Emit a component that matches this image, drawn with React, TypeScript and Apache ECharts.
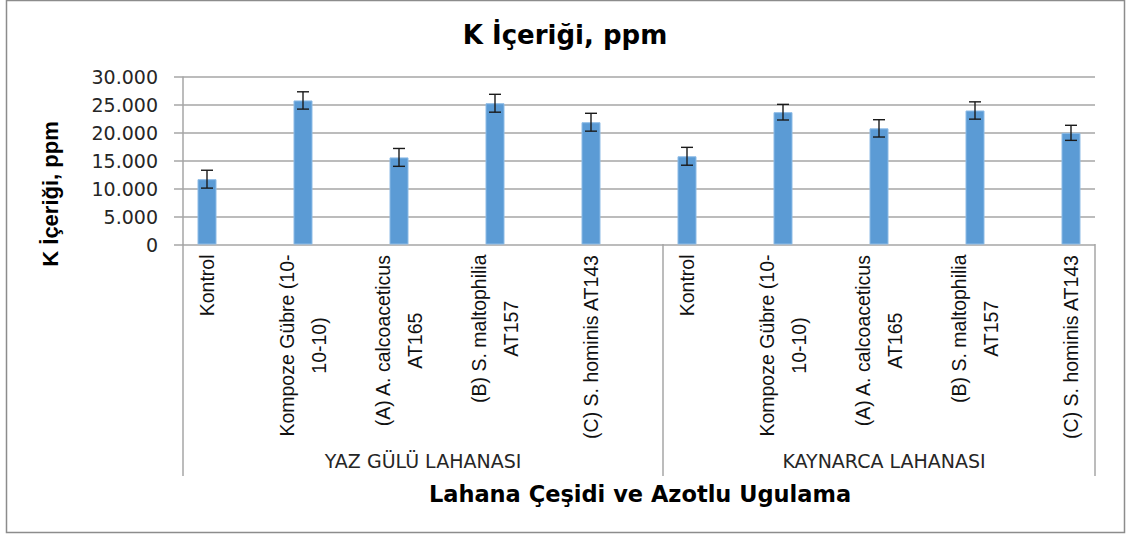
import React, { useEffect, useRef } from "react";
import * as echarts from "echarts";

const categories = [
  "Kontrol",
  "Kompoze Gübre (10-\n10-10)",
  "(A) A. calcoaceticus\nAT165",
  "(B) S. maltophilia\nAT157",
  "(C) S. hominis AT143",
  "Kontrol",
  "Kompoze Gübre (10-\n10-10)",
  "(A) A. calcoaceticus\nAT165",
  "(B) S. maltophilia\nAT157",
  "(C) S. hominis AT143",
];
const groups = ["YAZ GÜLÜ LAHANASI", "KAYNARCA LAHANASI"];
const yazValues = [11700, 25800, 15600, 25300, 21900];
const kaynarcaValues = [15800, 23700, 20800, 24000, 20000];
const errors = [1600, 1550, 1600, 1600, 1600, 1600, 1400, 1550, 1550, 1350];
const yTicks = [0, 5000, 10000, 15000, 20000, 25000, 30000];

const title = "K İçeriği, ppm";
const yTitle = "K İçeriği, ppm";
const xTitle = "Lahana Çeşidi ve Azotlu Ugulama";

const catFont = "'Liberation Sans'";

export default function App() {
  const ref = useRef<HTMLDivElement>(null);
  useEffect(() => {
    if (!ref.current) return;
    const chart = echarts.init(ref.current, undefined, { renderer: "svg" });
    const values = [...yazValues, ...kaynarcaValues];
    const grey = "#a6a6a6";
    const fmt = (v: number) => (v === 0 ? "0" : (v / 1000).toFixed(3));
    const option: any = {
      animation: false,
      backgroundColor: "#ffffff",
      grid: [
        { left: 183, top: 77, width: 912, height: 167.5, containLabel: false },
        { left: 159, top: 77, width: 960, height: 167.5, containLabel: false },
      ],
      xAxis: [
        { gridIndex: 0, type: "value", show: false, min: 0, max: 1 },
        {
          gridIndex: 1,
          type: "category",
          data: categories.map((_, i) => String(i)),
          axisLine: { show: false },
          axisTick: { show: false },
          axisLabel: {
            interval: 0,
            rotate: 90,
            margin: 10,
            fontFamily: catFont,
            fontSize: 19.5,
            lineHeight: 32,
            color: "#111",
            formatter: (v: string) =>
              categories[Number(v)]
                .split("\n")
                .map((l) => `{c|${l}}`)
                .join("\n"),
            rich: {
              c: {
                align: "center",
                fontFamily: catFont,
                fontSize: 19.5,
                lineHeight: 32,
                color: "#111",
              },
            },
          },
        },
      ],
      yAxis: [
        {
          gridIndex: 0,
          type: "value",
          min: yTicks[0],
          max: yTicks[yTicks.length - 1],
          interval: yTicks[1] - yTicks[0],
          axisLine: { show: true, lineStyle: { color: grey, width: 1.5 } },
          axisTick: { show: true, length: 9, lineStyle: { color: grey, width: 1.5 } },
          splitLine: { show: true, lineStyle: { color: grey, width: 1.5 } },
          axisLabel: {
            margin: 25,
            fontFamily: "DejaVu Sans",
            fontSize: 19,
            color: "#262626",
            formatter: fmt,
          },
        },
        {
          gridIndex: 1,
          type: "value",
          min: yTicks[0],
          max: yTicks[yTicks.length - 1],
          show: false,
        },
      ],
      series: [
        {
          type: "bar",
          xAxisIndex: 1,
          yAxisIndex: 1,
          data: values,
          barWidth: 19,
          itemStyle: { color: "#5b9bd5", borderColor: "#8dbbe6", borderWidth: 1 },
          z: 3,
        },
        {
          type: "custom",
          xAxisIndex: 1,
          yAxisIndex: 1,
          data: values.map((v, i) => [i, v - errors[i], v + errors[i]]),
          encode: { x: 0, y: [1, 2] },
          z: 10,
          renderItem: (params: any, api: any) => {
            const x = api.value(0);
            const hi = api.coord([x, api.value(2)]);
            const lo = api.coord([x, api.value(1)]);
            const w = 6;
            const st = { stroke: "#1a1a1a", lineWidth: 1.4 };
            return {
              type: "group",
              children: [
                { type: "line", shape: { x1: hi[0], y1: hi[1], x2: lo[0], y2: lo[1] }, style: st },
                { type: "line", shape: { x1: hi[0] - w, y1: hi[1], x2: hi[0] + w, y2: hi[1] }, style: st },
                { type: "line", shape: { x1: lo[0] - w, y1: lo[1], x2: lo[0] + w, y2: lo[1] }, style: st },
              ],
            };
          },
        },
      ],
      graphic: [
        {
          type: "rect",
          shape: { x: 6.5, y: 0.5, width: 1118, height: 532 },
          style: { fill: "none", stroke: "#8c8c8c", lineWidth: 1.5 },
          silent: true,
        },
        {
          type: "text",
          x: 565,
          y: 35,
          style: {
            text: title,
            font: "bold 26px 'DejaVu Sans'",
            fill: "#000",
            align: "center",
            verticalAlign: "middle",
          },
        },
        {
          type: "text",
          x: 50,
          y: 194,
          rotation: Math.PI / 2,
          style: {
            text: yTitle,
            font: "bold 22px 'Liberation Sans'",
            fill: "#000",
            align: "center",
            verticalAlign: "middle",
          },
        },
        {
          type: "text",
          x: 640,
          y: 494,
          style: {
            text: xTitle,
            font: "bold 22.5px 'DejaVu Sans'",
            fill: "#000",
            align: "center",
            verticalAlign: "middle",
          },
        },
        {
          type: "line",
          shape: { x1: 183, y1: 244, x2: 183, y2: 476 },
          style: { stroke: grey, lineWidth: 1.5 },
        },
        {
          type: "line",
          shape: { x1: 663, y1: 244, x2: 663, y2: 476 },
          style: { stroke: grey, lineWidth: 1.5 },
        },
        {
          type: "line",
          shape: { x1: 1095, y1: 244, x2: 1095, y2: 476 },
          style: { stroke: grey, lineWidth: 1.5 },
        },
        {
          type: "text",
          x: 423,
          y: 461,
          style: {
            text: groups[0],
            font: "19px 'DejaVu Sans'",
            fill: "#262626",
            align: "center",
            verticalAlign: "middle",
          },
        },
        {
          type: "text",
          x: 884,
          y: 461,
          style: {
            text: groups[1],
            font: "19px 'DejaVu Sans'",
            fill: "#262626",
            align: "center",
            verticalAlign: "middle",
          },
        },
      ],
    };
    chart.setOption(option);
    return () => chart.dispose();
  }, []);
  return (
    <div
      ref={ref}
      style={{ position: "absolute", left: 0, top: 0, width: 1130, height: 536 }}
    />
  );
}
